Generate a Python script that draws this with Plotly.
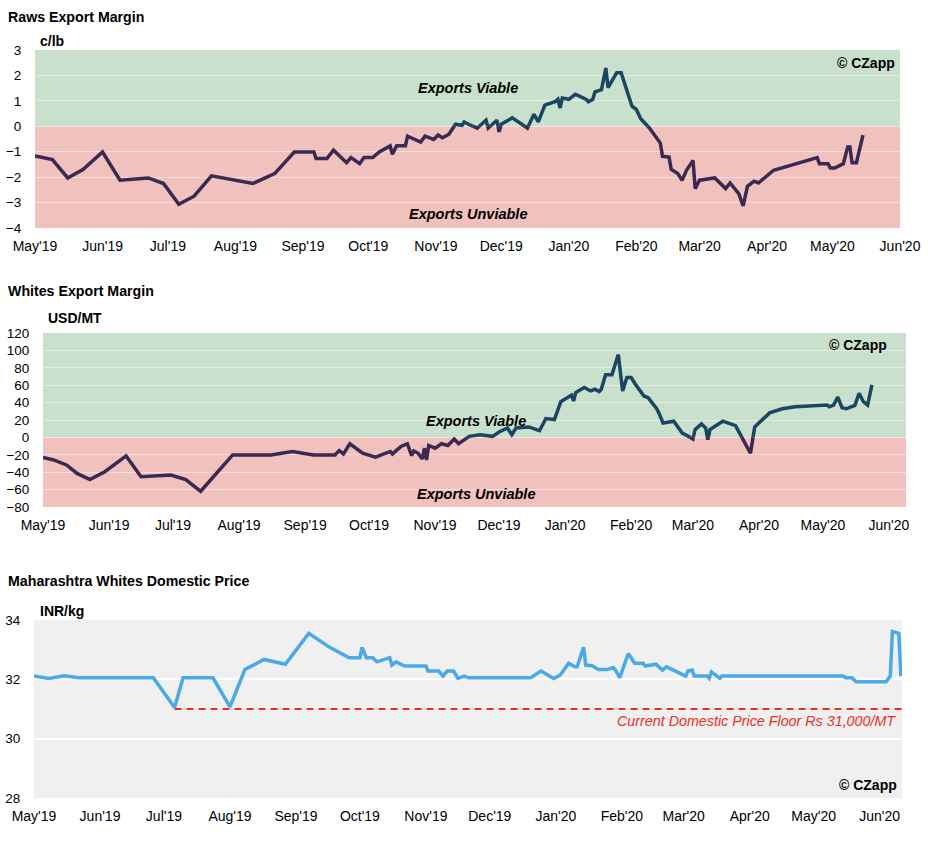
import pandas as pd
import plotly.graph_objects as go

# ---------------- DATA ----------------
raws_dates = ["2019-05-01","2019-05-09","2019-05-16","2019-05-23","2019-06-01","2019-06-09","2019-06-22","2019-06-29",
              "2019-07-06","2019-07-13","2019-07-21","2019-08-09","2019-08-19","2019-08-28","2019-09-06","2019-09-07",
              "2019-09-12","2019-09-15","2019-09-21","2019-09-23","2019-09-27","2019-09-29","2019-10-03","2019-10-06",
              "2019-10-11","2019-10-12","2019-10-14","2019-10-18","2019-10-19","2019-10-25","2019-10-27","2019-10-31",
              "2019-11-02","2019-11-04","2019-11-07","2019-11-10","2019-11-13","2019-11-14","2019-11-16","2019-11-20",
              "2019-11-24","2019-11-25","2019-11-29","2019-11-30","2019-12-01","2019-12-06","2019-12-13","2019-12-16",
              "2019-12-18","2019-12-21","2019-12-26","2019-12-27","2019-12-28","2019-12-29","2020-01-01","2020-01-04",
              "2020-01-09","2020-01-10","2020-01-12","2020-01-13","2020-01-16","2020-01-18","2020-01-19","2020-01-23",
              "2020-01-25","2020-01-30","2020-02-01","2020-02-03","2020-02-07","2020-02-12","2020-02-13","2020-02-16",
              "2020-02-17","2020-02-20","2020-02-22","2020-02-24","2020-02-27","2020-02-28","2020-03-01","2020-03-08",
              "2020-03-13","2020-03-15","2020-03-19","2020-03-21","2020-03-23","2020-03-26","2020-03-28","2020-04-04",
              "2020-04-24","2020-04-25","2020-04-29","2020-04-30","2020-05-02","2020-05-06","2020-05-08","2020-05-09",
              "2020-05-10","2020-05-12","2020-05-15"]
raws_values = [-1.17,-1.31,-2.03,-1.70,-1.01,-2.12,-2.03,-2.25,
               -3.07,-2.75,-1.95,-2.25,-1.86,-1.01,-1.01,-1.27,
               -1.27,-0.94,-1.43,-1.23,-1.47,-1.23,-1.23,-1.01,
               -0.77,-1.10,-0.77,-0.77,-0.39,-0.62,-0.39,-0.52,
               -0.34,-0.45,-0.31,0.08,0.04,0.17,0.08,-0.07,
               0.24,-0.07,0.24,-0.22,0.08,0.33,-0.07,0.47,
               0.17,0.83,0.98,1.06,0.72,1.11,1.06,1.26,
               1.06,0.96,1.06,1.35,1.44,2.29,1.52,2.11,
               2.11,0.79,0.66,0.30,-0.07,-0.66,-1.18,-1.21,
               -1.70,-1.86,-2.12,-1.73,-1.34,-2.45,-2.12,-2.03,
               -2.45,-2.23,-2.65,-3.13,-2.36,-2.16,-2.23,-1.73,
               -1.23,-1.47,-1.47,-1.64,-1.64,-1.47,-0.81,-0.81,
               -1.43,-1.43,-0.35]

whites_dates = ["2019-05-01","2019-05-06","2019-05-12","2019-05-17","2019-05-23","2019-05-30","2019-06-09","2019-06-16",
                "2019-06-30","2019-07-07","2019-07-14","2019-07-29","2019-08-16","2019-08-26","2019-09-05","2019-09-15",
                "2019-09-17","2019-09-19","2019-09-22","2019-09-28","2019-10-04","2019-10-11","2019-10-12","2019-10-16",
                "2019-10-19","2019-10-21","2019-10-22","2019-10-24","2019-10-26","2019-10-27","2019-10-28","2019-10-29",
                "2019-11-01","2019-11-04","2019-11-07","2019-11-10","2019-11-12","2019-11-15","2019-11-17","2019-11-22",
                "2019-11-28","2019-12-01","2019-12-05","2019-12-07","2019-12-09","2019-12-15","2019-12-20","2019-12-23",
                "2019-12-27","2019-12-30","2020-01-04","2020-01-05","2020-01-06","2020-01-10","2020-01-13","2020-01-15",
                "2020-01-17","2020-01-18","2020-01-20","2020-01-23","2020-01-26","2020-01-28","2020-01-30","2020-02-01",
                "2020-02-03","2020-02-07","2020-02-09","2020-02-13","2020-02-14","2020-02-16","2020-02-21","2020-02-25",
                "2020-02-28","2020-03-01","2020-03-02","2020-03-05","2020-03-07","2020-03-08","2020-03-09","2020-03-15",
                "2020-03-21","2020-03-28","2020-03-30","2020-04-06","2020-04-12","2020-04-18","2020-05-03","2020-05-04",
                "2020-05-06","2020-05-08","2020-05-10","2020-05-12","2020-05-16","2020-05-18","2020-05-20","2020-05-22",
                "2020-05-24"]
whites_values = [-23.2,-25.9,-31.7,-41.4,-48.4,-39.5,-21.3,-45.3,
                 -43.3,-48.4,-61.9,-20.1,-20.1,-16.2,-20.1,-20.1,
                 -15.1,-19.0,-7.3,-18.2,-22.8,-16.2,-19.0,-10.4,
                 -7.3,-20.9,-15.5,-18.2,-24.8,-12.4,-25.9,-9.3,
                 -12.4,-7.3,-9.3,-1.9,-7.3,-2.7,1.2,3.1,
                 1.2,6.2,10.8,3.1,10.8,12.0,7.7,21.7,
                 20.5,41.0,48.7,41.8,51.5,57.3,53.4,55.3,
                 52.6,55.3,72.0,72.0,95.2,53.4,68.9,68.9,
                 61.1,47.6,45.6,32.9,28.2,16.6,18.6,5.0,
                 1.2,-1.9,8.9,15.5,10.8,-2.7,8.9,18.6,
                 13.5,-18.2,12.0,28.2,32.9,35.2,37.1,35.2,
                 37.1,46.4,34.0,32.9,36.8,50.7,41.0,37.1,
                 60.3]

dom_dates = ["2019-05-01","2019-05-08","2019-05-15","2019-05-22","2019-06-26","2019-07-06","2019-07-10","2019-07-24",
             "2019-08-01","2019-08-08","2019-08-17","2019-08-27","2019-09-07","2019-09-17","2019-09-26","2019-10-01",
             "2019-10-02","2019-10-04","2019-10-07","2019-10-09","2019-10-15","2019-10-16","2019-10-18","2019-10-22",
             "2019-11-01","2019-11-02","2019-11-07","2019-11-09","2019-11-11","2019-11-14","2019-11-16","2019-11-19",
             "2019-11-21","2019-12-20","2019-12-25","2019-12-31","2020-01-03","2020-01-07","2020-01-10","2020-01-11",
             "2020-01-14","2020-01-15","2020-01-18","2020-01-21","2020-01-25","2020-01-28","2020-01-29","2020-01-31",
             "2020-02-04","2020-02-07","2020-02-11","2020-02-12","2020-02-17","2020-02-20","2020-02-22","2020-02-26",
             "2020-03-02","2020-03-03","2020-03-05","2020-03-06","2020-03-12","2020-03-13","2020-03-14","2020-03-18",
             "2020-03-19","2020-05-15","2020-05-16","2020-05-19","2020-05-21","2020-06-04","2020-06-06","2020-06-07",
             "2020-06-10","2020-06-11"]
dom_values = [32.11,32.03,32.12,32.05,32.05,31.05,32.05,32.05,
              31.07,32.33,32.67,32.51,33.55,33.07,32.73,32.73,
              33.08,32.73,32.73,32.59,32.73,32.48,32.59,32.45,
              32.45,32.28,32.28,32.11,32.28,32.28,32.03,32.11,
              32.05,32.05,32.28,32.03,32.14,32.54,32.42,32.42,
              33.08,32.48,32.46,32.33,32.33,32.40,32.31,32.06,
              32.87,32.54,32.54,32.45,32.51,32.31,32.42,32.28,
              32.11,32.28,32.31,32.11,32.11,32.03,32.25,32.03,
              32.11,32.11,32.05,32.05,31.92,31.92,32.11,33.61,
              33.55,32.11]

floor_start = "2019-07-06"
floor_value = 31.0

raws_range = ["2019-05-01", "2020-06-01"]
whites_range = ["2019-05-01", "2020-06-09"]
dom_range = ["2019-05-01", "2020-06-11 12:00"]

# ---------------- STYLE ----------------
W, H = 928, 846
FONT = "Liberation Sans, Arial, Helvetica, sans-serif"
NARROW = "Liberation Sans Narrow, Arial Narrow, Liberation Sans, sans-serif"
PURPLE = "#3a2a52"
TEAL = "#1b4661"
BLUE = "#4aa9e6"
GREEN_BG = "#c9e1cc"
RED_BG = "#f0c1bd"
GREY_BG = "#f0f0f0"


def px(x):
    return x / W


def py(y):
    return 1 - y / H


def split_by_sign(dates, values):
    """Split series into runs above/below zero, adding the zero-crossing point."""
    ts = pd.to_datetime(dates)
    runs = []
    cur = [(ts[0], values[0])]
    cur_sign = values[0] >= 0
    for i in range(1, len(values)):
        s = values[i] >= 0
        if s == cur_sign:
            cur.append((ts[i], values[i]))
        else:
            t0, y0 = ts[i - 1], values[i - 1]
            t1, y1 = ts[i], values[i]
            tc = t0 + (t1 - t0) * ((0 - y0) / (y1 - y0))
            cur.append((tc, 0.0))
            runs.append((cur_sign, cur))
            cur = [(tc, 0.0), (t1, y1)]
            cur_sign = s
    runs.append((cur_sign, cur))
    pos_x, pos_y, neg_x, neg_y = [], [], [], []
    for sign, pts in runs:
        tx = pos_x if sign else neg_x
        ty = pos_y if sign else neg_y
        for t, v in pts:
            tx.append(t)
            ty.append(v)
        tx.append(None)
        ty.append(None)
    return pos_x, pos_y, neg_x, neg_y


fig = go.Figure()

# Chart 1 - Raws
px_, py_, nx_, ny_ = split_by_sign(raws_dates, raws_values)
fig.add_trace(go.Scatter(x=nx_, y=ny_, mode="lines", line=dict(color=PURPLE, width=3.5),
                         xaxis="x", yaxis="y", connectgaps=False, showlegend=False, hoverinfo="skip"))
fig.add_trace(go.Scatter(x=px_, y=py_, mode="lines", line=dict(color=TEAL, width=3.5),
                         xaxis="x", yaxis="y", connectgaps=False, showlegend=False, hoverinfo="skip"))

# Chart 2 - Whites
px_, py_, nx_, ny_ = split_by_sign(whites_dates, whites_values)
fig.add_trace(go.Scatter(x=nx_, y=ny_, mode="lines", line=dict(color=PURPLE, width=3.5),
                         xaxis="x2", yaxis="y2", connectgaps=False, showlegend=False, hoverinfo="skip"))
fig.add_trace(go.Scatter(x=px_, y=py_, mode="lines", line=dict(color=TEAL, width=3.5),
                         xaxis="x2", yaxis="y2", connectgaps=False, showlegend=False, hoverinfo="skip"))

# Chart 3 - Domestic price
fig.add_trace(go.Scatter(x=[floor_start, dom_range[1]], y=[floor_value, floor_value], mode="lines",
                         line=dict(color="#e8302a", width=2, dash="7px,5px"),
                         xaxis="x3", yaxis="y3", showlegend=False, hoverinfo="skip"))
fig.add_trace(go.Scatter(x=dom_dates, y=dom_values, mode="lines", line=dict(color=BLUE, width=3.5),
                         xaxis="x3", yaxis="y3", showlegend=False, hoverinfo="skip"))

xcommon = dict(type="date", tickformat="%b'%y", dtick="M1", tick0="2019-05-01", showgrid=False,
               zeroline=False, showline=False, ticks="outside", ticklen=5, tickcolor="rgba(0,0,0,0)",
               tickfont=dict(family=FONT, size=14, color="#000"), fixedrange=True, automargin=False)
ycommon = dict(showgrid=True, zeroline=False, showline=False, ticks="outside", ticklen=10,
               tickcolor="rgba(0,0,0,0)", tickfont=dict(family=FONT, size=13.5, color="#000"),
               fixedrange=True, automargin=False)

fig.update_layout(
    width=W, height=H,
    margin=dict(l=0, r=0, t=0, b=0, pad=0, autoexpand=False),
    paper_bgcolor="white",
    plot_bgcolor=GREY_BG,
    font=dict(family=FONT, color="#000"),
    hovermode=False,
    xaxis=dict(xcommon, domain=[px(35), px(900)], range=raws_range, anchor="y"),
    yaxis=dict(ycommon, domain=[py(228), py(50)], range=[-4, 3], dtick=1, anchor="x",
               gridcolor="rgba(255,255,255,0.45)", gridwidth=1),
    xaxis2=dict(xcommon, domain=[px(43), px(906)], range=whites_range, anchor="y2"),
    yaxis2=dict(ycommon, domain=[py(507), py(333)], range=[-80, 120], dtick=20, anchor="x2",
                gridcolor="rgba(255,255,255,0.45)", gridwidth=1),
    xaxis3=dict(xcommon, domain=[px(34), px(902)], range=dom_range, anchor="y3"),
    yaxis3=dict(ycommon, domain=[py(798), py(620)], range=[28, 34], dtick=2, anchor="x3",
                gridcolor="white", gridwidth=2),
)

shapes = [
    dict(type="rect", xref="x domain", yref="y", x0=0, x1=1, y0=0, y1=3, fillcolor=GREEN_BG,
         line=dict(width=0), layer="below"),
    dict(type="rect", xref="x domain", yref="y", x0=0, x1=1, y0=-4, y1=0, fillcolor=RED_BG,
         line=dict(width=0), layer="below"),
    dict(type="rect", xref="x2 domain", yref="y2", x0=0, x1=1, y0=0, y1=120, fillcolor=GREEN_BG,
         line=dict(width=0), layer="below"),
    dict(type="rect", xref="x2 domain", yref="y2", x0=0, x1=1, y0=-80, y1=0, fillcolor=RED_BG,
         line=dict(width=0), layer="below"),
]
fig.update_layout(shapes=shapes)

ann = []


def text(x, y, s, size=13, bold=False, italic=False, color="#000", xanchor="left", family=FONT):
    t = s
    if bold:
        t = "<b>" + t + "</b>"
    if italic:
        t = "<i>" + t + "</i>"
    ann.append(dict(x=px(x), y=py(y), xref="paper", yref="paper", text=t, showarrow=False,
                    xanchor=xanchor, yanchor="middle", font=dict(family=family, size=size, color=color)))


# titles
text(6, 17, "Raws Export Margin", size=14.2, bold=True)
text(6, 291, "Whites Export Margin", size=14.2, bold=True)
text(6, 581, "Maharashtra Whites Domestic Price", size=14.2, bold=True)
# units
text(38, 41, "c/lb", size=14, bold=True)
text(46, 318, "USD/MT", size=14, bold=True)
text(38, 611, "INR/kg", size=14, bold=True)
# zone labels
text(468, 88, "Exports Viable", size=14.5, bold=True, italic=True, xanchor="center")
text(468, 214, "Exports Unviable", size=14.5, bold=True, italic=True, xanchor="center")
text(476, 421, "Exports Viable", size=14.5, bold=True, italic=True, xanchor="center")
text(476, 494, "Exports Unviable", size=14.5, bold=True, italic=True, xanchor="center")
# watermark
text(897, 63, "© CZapp", size=14, bold=True, xanchor="right", family=NARROW)
text(889, 345, "© CZapp", size=14, bold=True, xanchor="right", family=NARROW)
text(899, 785, "© CZapp", size=14, bold=True, xanchor="right", family=NARROW)
# floor label
text(898, 721, "Current Domestic Price Floor Rs 31,000/MT", size=14.3, italic=True, color="#e8302a",
     xanchor="right")

fig.update_layout(annotations=ann)

fig.write_html("out.html", config={"displayModeBar": False, "staticPlot": True},
               post_script="document.body.style.margin='0';document.body.style.overflow='hidden';")
